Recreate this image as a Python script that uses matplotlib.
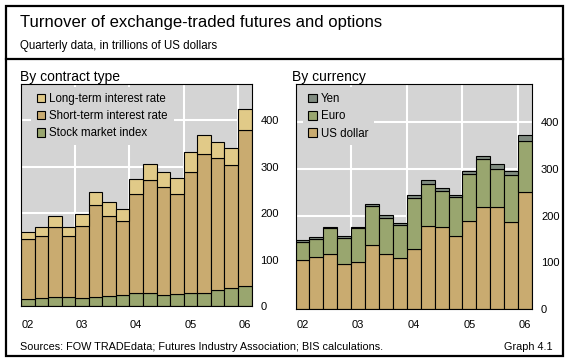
import matplotlib.pyplot as plt
from matplotlib.patches import Patch, Rectangle
from matplotlib.lines import Line2D

plt.rcParams['font.family'] = ['Liberation Sans', 'DejaVu Sans']

# quarterly data, 2002 Q1 - 2006 Q1 (trillions of US dollars)
quarters = ['02Q1', '02Q2', '02Q3', '02Q4', '03Q1', '03Q2', '03Q3', '03Q4',
            '04Q1', '04Q2', '04Q3', '04Q4', '05Q1', '05Q2', '05Q3', '05Q4', '06Q1']
year_labels = ['02', '03', '04', '05', '06']

# By contract type
stock_index = [14, 17, 19, 19, 17, 19, 21, 23, 27, 27, 23, 25, 27, 27, 34, 38, 42]
short_term = [130, 134, 151, 132, 156, 198, 173, 160, 214, 244, 233, 216, 261, 300, 285, 266, 337]
long_term = [16, 19, 24, 19, 25, 28, 30, 26, 32, 35, 32, 35, 44, 41, 34, 36, 45]

# By currency
us_dollar = [105, 111, 118, 97, 101, 137, 118, 109, 128, 178, 175, 156, 188, 219, 219, 186, 250]
euro = [38, 39, 55, 55, 72, 83, 77, 70, 109, 89, 77, 84, 100, 102, 81, 101, 109]
yen = [5, 4, 2, 5, 2, 5, 6, 5, 7, 10, 7, 4, 8, 6, 10, 9, 13]

W, H = 569, 362
BG = '#d4d4d4'
C_LONG = '#e1ca88'
C_SHORT = '#c9ab70'
C_GREEN = '#99a66f'
C_YEN = '#808b80'


def fx(px):
    return px / W


def fy(py):
    return 1 - py / H


fig = plt.figure(figsize=(W / 100, H / 100), dpi=100)

# outer frame and separator line
fig.patches.append(Rectangle((fx(5.5), fy(355.5)), fx(557), 350 / H, transform=fig.transFigure,
                             fill=False, edgecolor='black', linewidth=1.6))
fig.lines.append(Line2D([fx(5.5), fx(562.5)], [fy(58.5), fy(58.5)], transform=fig.transFigure,
                        color='black', linewidth=1.6))

fig.text(fx(20.5), fy(27), 'Turnover of exchange-traded futures and options', fontsize=12, va='baseline')
fig.text(fx(20.5), fy(49), 'Quarterly data, in trillions of US dollars', fontsize=8.3, va='baseline')
fig.text(fx(20.5), fy(80.5), 'By contract type', fontsize=10, va='baseline')
fig.text(fx(292), fy(80.5), 'By currency', fontsize=10, va='baseline')
fig.text(fx(20.5), fy(350), 'Sources: FOW TRADEdata; Futures Industry Association; BIS calculations.',
         fontsize=7.8, va='baseline')
fig.text(fx(553), fy(350), 'Graph 4.1', fontsize=7.8, va='baseline', ha='right')

ax1 = fig.add_axes([fx(21), fy(306), (251.5 - 21) / W, (306 - 84) / H])
ax2 = fig.add_axes([fx(295.5), fy(308.8), (532 - 295.5) / W, (308.8 - 84) / H])

x = list(range(len(quarters)))


def stack(ax, series, colors):
    bottom = [0] * len(x)
    for vals, col in zip(series, colors):
        ax.bar(x, vals, bottom=bottom, width=1.0, color=col, edgecolor='black',
               linewidth=0.8, zorder=3)
        bottom = [b + v for b, v in zip(bottom, vals)]


stack(ax1, [stock_index, short_term, long_term], [C_GREEN, C_SHORT, C_LONG])
stack(ax2, [us_dollar, euro, yen], [C_SHORT, C_GREEN, C_YEN])

for ax, top, xpad in [(ax1, 478, 10), (ax2, 482, 8)]:
    ax.set_facecolor(BG)
    ax.set_xlim(-0.5, len(x) - 0.5)
    ax.set_ylim(0, top)
    for v in [100, 200, 300, 400]:
        ax.axhline(v, color='white', linewidth=1.5, zorder=1)
    for b in [3.5, 7.5, 11.5, 15.5]:
        ax.axvline(b, color='white', linewidth=1.5, zorder=1)
    ax.set_xticks([0, 4, 8, 12, 16])
    ax.set_xticklabels(year_labels)
    ax.set_yticks([0, 100, 200, 300, 400])
    ax.yaxis.tick_right()
    ax.tick_params(axis='y', length=0, pad=6.5, labelsize=8)
    ax.tick_params(axis='x', length=0, pad=xpad, labelsize=8)
    for s in ax.spines.values():
        s.set_linewidth(0.8)
        s.set_zorder(4)

h1 = [Patch(facecolor=C_LONG, edgecolor='black', linewidth=0.8, label='Long-term interest rate'),
      Patch(facecolor=C_SHORT, edgecolor='black', linewidth=0.8, label='Short-term interest rate'),
      Patch(facecolor=C_GREEN, edgecolor='black', linewidth=0.8, label='Stock market index')]
h2 = [Patch(facecolor=C_YEN, edgecolor='black', linewidth=0.8, label='Yen'),
      Patch(facecolor=C_GREEN, edgecolor='black', linewidth=0.8, label='Euro'),
      Patch(facecolor=C_SHORT, edgecolor='black', linewidth=0.8, label='US dollar')]

for ax, handles, xa in [(ax1, h1, 0.043), (ax2, h2, 0.03)]:
    leg = ax.legend(handles=handles, loc='upper left', bbox_to_anchor=(xa, 0.985),
                    fontsize=8.3, frameon=True, facecolor=BG, edgecolor='none', framealpha=1,
                    fancybox=False, borderpad=0.5, borderaxespad=0, handlelength=0.75,
                    handleheight=0.75, handletextpad=0.35, labelspacing=0.45)
    leg.set_zorder(5)

fig.savefig('out.png', dpi=100)
